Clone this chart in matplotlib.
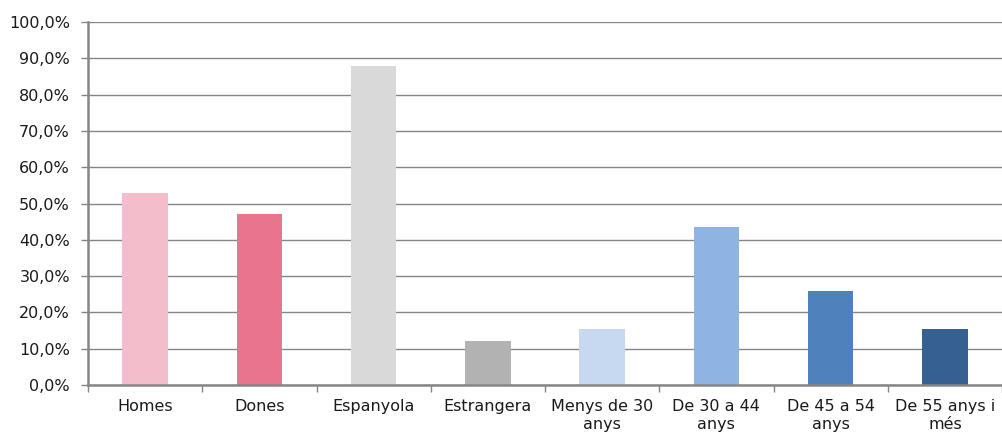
import matplotlib.pyplot as plt
import numpy as np
from matplotlib.ticker import FuncFormatter, MultipleLocator

# categories and values (percent)
categories = ['Homes', 'Dones', 'Espanyola', 'Estrangera', 'Menys de 30\nanys',
              'De 30 a 44\nanys', 'De 45 a 54\nanys', 'De 55 anys i\nmés']
values = [52.9, 47.1, 87.9, 12.1, 15.3, 43.5, 25.9, 15.3]
colors = ['#F4BDCB', '#E8748E', '#D9D9D9', '#B2B2B2',
          '#C6D9F1', '#8EB4E3', '#4F81BD', '#376092']

plt.rcParams['font.family'] = 'DejaVu Sans'

fig = plt.figure(figsize=(10.02, 4.34), dpi=100)
ax = fig.add_axes([88 / 1002, 1 - 385 / 434, 1 - 88 / 1002, (385 - 22) / 434])

x = np.arange(len(categories))
ax.bar(x, values, width=0.4, color=colors, zorder=3)

ax.set_xlim(-0.5, len(categories) - 0.5)
ax.set_ylim(0, 100)

ax.yaxis.set_major_locator(MultipleLocator(10))
ax.yaxis.set_major_formatter(FuncFormatter(lambda v, p: ('%.1f%%' % v).replace('.', ',')))
ax.grid(axis='y', color='#868686', linewidth=1, zorder=0)

# category labels between boundary ticks
ax.set_xticks(x)
ax.set_xticklabels(categories, fontsize=11.5, linespacing=1.25, color='#1a1a1a')
ax.tick_params(axis='x', length=0, pad=10)
ax.set_xticks(np.arange(len(categories) + 1) - 0.5, minor=True)
ax.tick_params(axis='x', which='minor', length=5, width=1, color='#868686')
ax.tick_params(axis='y', length=5, width=1, color='#868686', labelsize=11.5,
               labelcolor='#1a1a1a', pad=8)

for side in ['top', 'right']:
    ax.spines[side].set_visible(False)
for side in ['left', 'bottom']:
    ax.spines[side].set_color('#868686')
    ax.spines[side].set_linewidth(1.8)
    ax.spines[side].set_zorder(4)

fig.savefig('out.png', dpi=100)
